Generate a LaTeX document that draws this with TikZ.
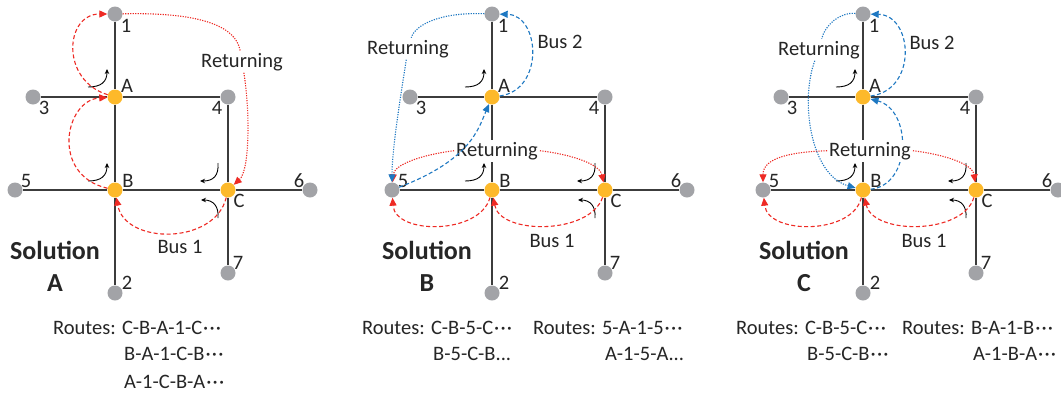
\documentclass[tikz,border=0pt]{standalone}
\usepackage{fontspec}
\setmainfont{Carlito}
\usetikzlibrary{arrows.meta,calc}
\definecolor{nodegray}{HTML}{A2A3A7}
\definecolor{nodeorange}{HTML}{FDB92A}
\definecolor{busred}{HTML}{EE2A24}
\definecolor{busblue}{HTML}{1E78C2}
\definecolor{linegray}{HTML}{3C3C3C}
\newcommand\mdots{\kern1pt·\kern1.2pt·\kern1.2pt·}
\tikzset{
  graystop/.style={circle, fill=nodegray, minimum size=15pt, inner sep=0pt},
  hubstop/.style={circle, fill=nodeorange, minimum size=15pt, inner sep=0pt},
  netline/.style={draw=linegray, line width=1.3pt},
  plaintxt/.style={font=\fontsize{20.5}{24}\selectfont, inner sep=0pt, text=black!85},
  nodelbl/.style={plaintxt},
  retlbl/.style={plaintxt, fill=white, inner sep=2pt},
  soltitle/.style={font=\fontsize{26}{32}\selectfont\bfseries, inner sep=0pt, text=black!85},
  redbus/.style={draw=busred, line width=1.1pt, dash pattern=on 4pt off 2.5pt, -{Triangle[length=8pt,width=7pt]}},
  bluebus/.style={draw=busblue, line width=1.1pt, dash pattern=on 4pt off 2.5pt, -{Triangle[length=8pt,width=7pt]}},
  redret/.style={draw=busred, line width=1.1pt, dash pattern=on 1.2pt off 1.3pt},
  blueret/.style={draw=busblue, line width=1.1pt, dash pattern=on 1.2pt off 1.3pt},
  rettip/.style={-{Triangle[length=8pt,width=7pt]}},
  smallturn/.style={draw=black, line width=0.9pt, -{Stealth[length=5pt,width=4.5pt]}},
}
\newcommand\drawnet[2]{%
  \begin{scope}[shift={(#2,0)}, name prefix=#1-]
    \node[graystop] (1) at (115,14) {};
    \node[hubstop] (A) at (115,97) {};
    \node[graystop] (3) at (33,97) {};
    \node[graystop] (4) at (228,97) {};
    \node[graystop] (5) at (15,190) {};
    \node[hubstop] (B) at (115,190) {};
    \node[hubstop] (C) at (228,190) {};
    \node[graystop] (6) at (310,190) {};
    \node[graystop] (7) at (228,273) {};
    \node[graystop] (2) at (115,293) {};
    \draw[netline] (1) -- (A);
    \draw[netline] (A) -- (B);
    \draw[netline] (B) -- (2);
    \draw[netline] (3) -- (A);
    \draw[netline] (A) -- (4);
    \draw[netline] (4) -- (C);
    \draw[netline] (C) -- (7);
    \draw[netline] (5) -- (B);
    \draw[netline] (B) -- (C);
    \draw[netline] (C) -- (6);
    \node[nodelbl] (l1) at (126,26) {1};
    \node[nodelbl] (lA) at (127,86) {A};
    \node[nodelbl] (l3) at (44,108) {3};
    \node[nodelbl] (l4) at (217,108) {4};
    \node[nodelbl] (l5) at (26,181) {5};
    \node[nodelbl] (lB) at (128,181) {B};
    \node[nodelbl] (lC) at (239,201) {C};
    \node[nodelbl] (l6) at (299,181) {6};
    \node[nodelbl] (l7) at (238,263) {7};
    \node[nodelbl] (l2) at (127,283) {2};
  \end{scope}%
}
\newcommand\turns[1]{%
  \draw[smallturn] ($(#1-A)+(-27,-10)$) .. controls ($(#1-A)+(-14,-10)$) and ($(#1-A)+(-8,-15)$) .. ($(#1-A)+(-8,-28)$);
  \draw[smallturn] ($(#1-B)+(-27,-9)$) .. controls ($(#1-B)+(-14,-9)$) and ($(#1-B)+(-8,-14)$) .. ($(#1-B)+(-8,-27)$);
  \draw[smallturn] ($(#1-C)+(-10,-27)$) .. controls ($(#1-C)+(-9,-14)$) and ($(#1-C)+(-15,-9)$) .. ($(#1-C)+(-28,-9)$);
  \draw[smallturn] ($(#1-C)+(-10,28)$) .. controls ($(#1-C)+(-9,16)$) and ($(#1-C)+(-15,10)$) .. ($(#1-C)+(-27,10)$);
}
\begin{document}
\begin{tikzpicture}[x=1pt,y=-1pt]
\useasboundingbox (0,0) rectangle (1061,397);
\fill[white] (0,0) rectangle (1061,397);
\drawnet{a}{0}
\drawnet{b}{377}
\drawnet{c}{748}
\turns{a}
\turns{b}
\turns{c}

% ---------- Solution A ----------
\node[retlbl, anchor=base] (a-ret) at (242,67) {Returning};
\node[plaintxt, anchor=base] (a-bus1) at (180,253) {Bus 1};
\node[soltitle, anchor=base] (a-sol) at (55,259.5) {Solution};
\node[soltitle, anchor=base] (a-solx) at (55,291.5) {A};
\node[plaintxt, anchor=base west] (a-r1) at (53,334) {Routes: C-B-A-1-C\mdots};
\node[plaintxt, anchor=base west] (a-r2) at (124,360) {B-A-1-C-B\mdots};
\node[plaintxt, anchor=base west] (a-r3) at (124,388) {A-1-C-B-A\mdots};
\draw[redbus] (a-C) .. controls (215,245) and (125,245) .. (a-B);
\draw[redbus] (a-B) .. controls (50,175) and (65,100) .. (a-A);
\draw[redbus] (a-A) .. controls (60,80) and (65,14) .. (a-1);
\draw[redret] (a-1) .. controls (200,12) and (236,26) .. (a-ret);
\draw[redret, rettip] (a-ret) .. controls (250,110) and (250,170) .. (a-C);

% ---------- Solution B ----------
\node[retlbl, anchor=base] (b-ret1) at (408,54) {Returning};
\node[retlbl, anchor=base] (b-ret) at (497,156) {Returning};
\node[plaintxt, anchor=base] (b-bus2) at (560,48) {Bus 2};
\node[plaintxt, anchor=base] (b-bus1) at (552,247) {Bus 1};
\node[soltitle, anchor=base] (b-sol) at (427,259.5) {Solution};
\node[soltitle, anchor=base] (b-solx) at (427,291.5) {B};
\node[plaintxt, anchor=base west] (b-r1) at (362,334) {Routes: C-B-5-C\mdots};
\node[plaintxt, anchor=base west] (b-r2) at (433,360) {B-5-C-B...};
\node[plaintxt, anchor=base west] (b-r3) at (533,334) {Routes: 5-A-1-5\mdots};
\node[plaintxt, anchor=base west] (b-r4) at (605,360) {A-1-5-A...};
\draw[redbus] (b-C) .. controls (590,235) and (500,235) .. (b-B);
\draw[redbus] (b-B) .. controls (480,235) and (395,235) .. (b-5);
\draw[redret, rettip] (b-ret.west) .. controls (420,155) and (394,165) .. (b-5);
\draw[redret, rettip] (b-ret.east) .. controls (575,155) and (600,165) .. (b-C);
\draw[bluebus] (b-5) .. controls (470,160) and (478,130) .. (b-A);
\draw[bluebus] (b-A) .. controls (545,90) and (540,15) .. (b-1);
\draw[blueret] (b-1) .. controls (440,12) and (415,25) .. (b-ret1);
\draw[blueret, rettip] (b-ret1) .. controls (400,100) and (392,150) .. (b-5);

% ---------- Solution C ----------
\node[retlbl, anchor=base] (c-ret1) at (819,55) {Returning};
\node[plaintxt, anchor=base] (c-bus2) at (932,49) {Bus 2};
\node[plaintxt, anchor=base] (c-bus1) at (924,247) {Bus 1};
\node[soltitle, anchor=base] (c-sol) at (804,259.5) {Solution};
\node[soltitle, anchor=base] (c-solx) at (804,291.5) {C};
\node[plaintxt, anchor=base west] (c-r1) at (736,334) {Routes: C-B-5-C\mdots};
\node[plaintxt, anchor=base west] (c-r2) at (807,360) {B-5-C-B\mdots};
\node[plaintxt, anchor=base west] (c-r3) at (902,334) {Routes: B-A-1-B\mdots};
\node[plaintxt, anchor=base west] (c-r4) at (973,360) {A-1-B-A\mdots};
\draw[redbus] (c-C) .. controls (963,235) and (873,235) .. (c-B);
\draw[redbus] (c-B) .. controls (853,235) and (768,235) .. (c-5);
\draw[bluebus] (c-B) .. controls (912,185) and (912,110) .. (c-A);
\draw[bluebus] (c-A) .. controls (918,90) and (913,15) .. (c-1);
\node[retlbl, anchor=base] (c-ret) at (870,156) {Returning};
\draw[redret, rettip] (c-ret.west) .. controls (790,152) and (763,158) .. (c-5);
\draw[redret, rettip] (c-ret.east) .. controls (948,155) and (973,165) .. (c-C);
\draw[blueret] (c-1) .. controls (840,12) and (825,25) .. (c-ret1);
\draw[blueret, rettip] (c-ret1) .. controls (800,100) and (810,175) .. (c-B);
\end{tikzpicture}
\end{document}
